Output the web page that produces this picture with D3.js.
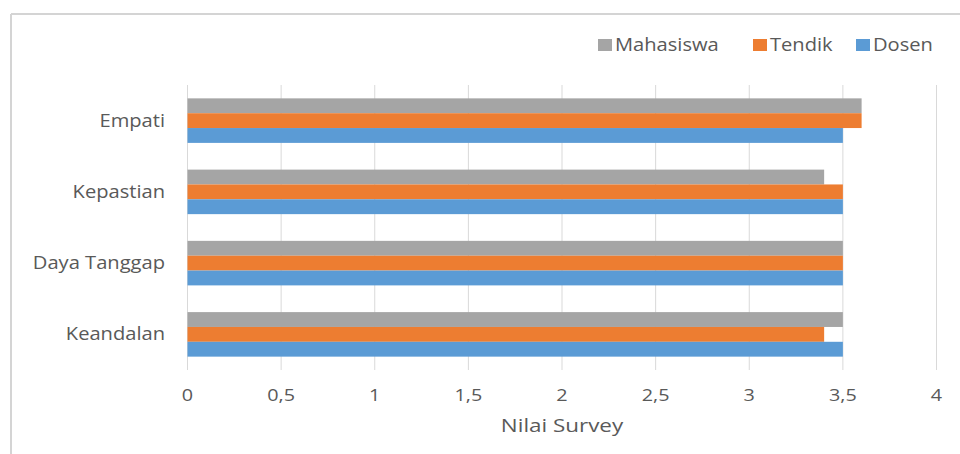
<!DOCTYPE html>
<html>
<head>
<meta charset="utf-8">
<script src="https://cdn.jsdelivr.net/npm/d3@7"></script>
<style>
  html, body { margin: 0; padding: 0; background: #fff; }
  svg { display: block; }
</style>
</head>
<body>
<div id="chart"></div>
<script>
const FONT = "'Open Sans', 'Noto Sans', sans-serif";
const categories = ['Empati', 'Kepastian', 'Daya Tanggap', 'Keandalan'];
const seriesNames = ['Mahasiswa', 'Tendik', 'Dosen'];
const mahasiswa = [3.6, 3.4, 3.5, 3.5];
const tendik = [3.6, 3.5, 3.5, 3.4];
const dosen = [3.5, 3.5, 3.5, 3.5];
const xTicks = [0, 0.5, 1, 1.5, 2, 2.5, 3, 3.5, 4];
const COLORS = { Mahasiswa: '#A5A5A5', Tendik: '#ED7D31', Dosen: '#5B9BD5' };

const W = 960, H = 454;
const m = { t: 85, r: 23.5, b: 84, l: 187.5 };
const svg = d3.select('#chart').append('svg').attr('width', W).attr('height', H);

// source text looks stretched sideways, so widen it a bit
const txt = (g, px, py, sx, size, anchor, s) => g.append('text')
  .attr('transform', `translate(${px},${py}) scale(${sx},1)`)
  .attr('text-anchor', anchor).attr('font-family', FONT).attr('font-size', size)
  .attr('fill', '#595959').text(s);

// frame (only top + left edges visible in the source)
svg.append('line').attr('x1', 11).attr('x2', W).attr('y1', 14).attr('y2', 14).attr('stroke', '#d4d4d4').attr('stroke-width', 2);
svg.append('line').attr('x1', 11).attr('x2', 11).attr('y1', 14).attr('y2', H).attr('stroke', '#d4d4d4').attr('stroke-width', 2);

const x = d3.scaleLinear().domain([0, 4]).range([m.l, W - m.r]);
const y0 = d3.scaleBand().domain(categories).range([m.t, H - m.b]).paddingInner(0.375).paddingOuter(0.1875);
const y1 = d3.scaleBand().domain(seriesNames).range([0, y0.bandwidth()]);

// gridlines
svg.append('g').selectAll('line').data(xTicks).join('line')
  .attr('x1', (d) => x(d)).attr('x2', (d) => x(d))
  .attr('y1', m.t).attr('y2', H - m.b)
  .attr('stroke', '#d9d9d9').attr('stroke-width', 1);

// tick labels
const tickG = svg.append('g');
xTicks.forEach((d) => txt(tickG, x(d), 401, 1.2, 16.5, 'middle', String(d).replace('.', ',')));

// bars
const flat = [];
categories.forEach((c, i) => {
  flat.push({ c, s: 'Mahasiswa', v: mahasiswa[i] });
  flat.push({ c, s: 'Tendik', v: tendik[i] });
  flat.push({ c, s: 'Dosen', v: dosen[i] });
});
svg.append('g').selectAll('rect').data(flat).join('rect')
  .attr('x', x(0)).attr('y', (d) => y0(d.c) + y1(d.s))
  .attr('width', (d) => x(d.v) - x(0)).attr('height', y1.bandwidth())
  .attr('fill', (d) => COLORS[d.s]);

// category labels
const catG = svg.append('g');
categories.forEach((c) => txt(catG, 165, y0(c) + y0.bandwidth() / 2 + 6, 1.15, 17.5, 'end', c));

// axis title
txt(svg, (x(0) + x(4)) / 2, 432, 1.18, 19, 'middle', 'Nilai Survey');

// legend
const legX = [598, 753, 856];
const legG = svg.append('g');
seriesNames.forEach((s, i) => {
  legG.append('rect').attr('x', legX[i]).attr('y', 39).attr('width', 14).attr('height', 12).attr('fill', COLORS[s]);
  txt(legG, legX[i] + 17, 51, 1.15, 17.5, 'start', s);
});
</script>
</body>
</html>
